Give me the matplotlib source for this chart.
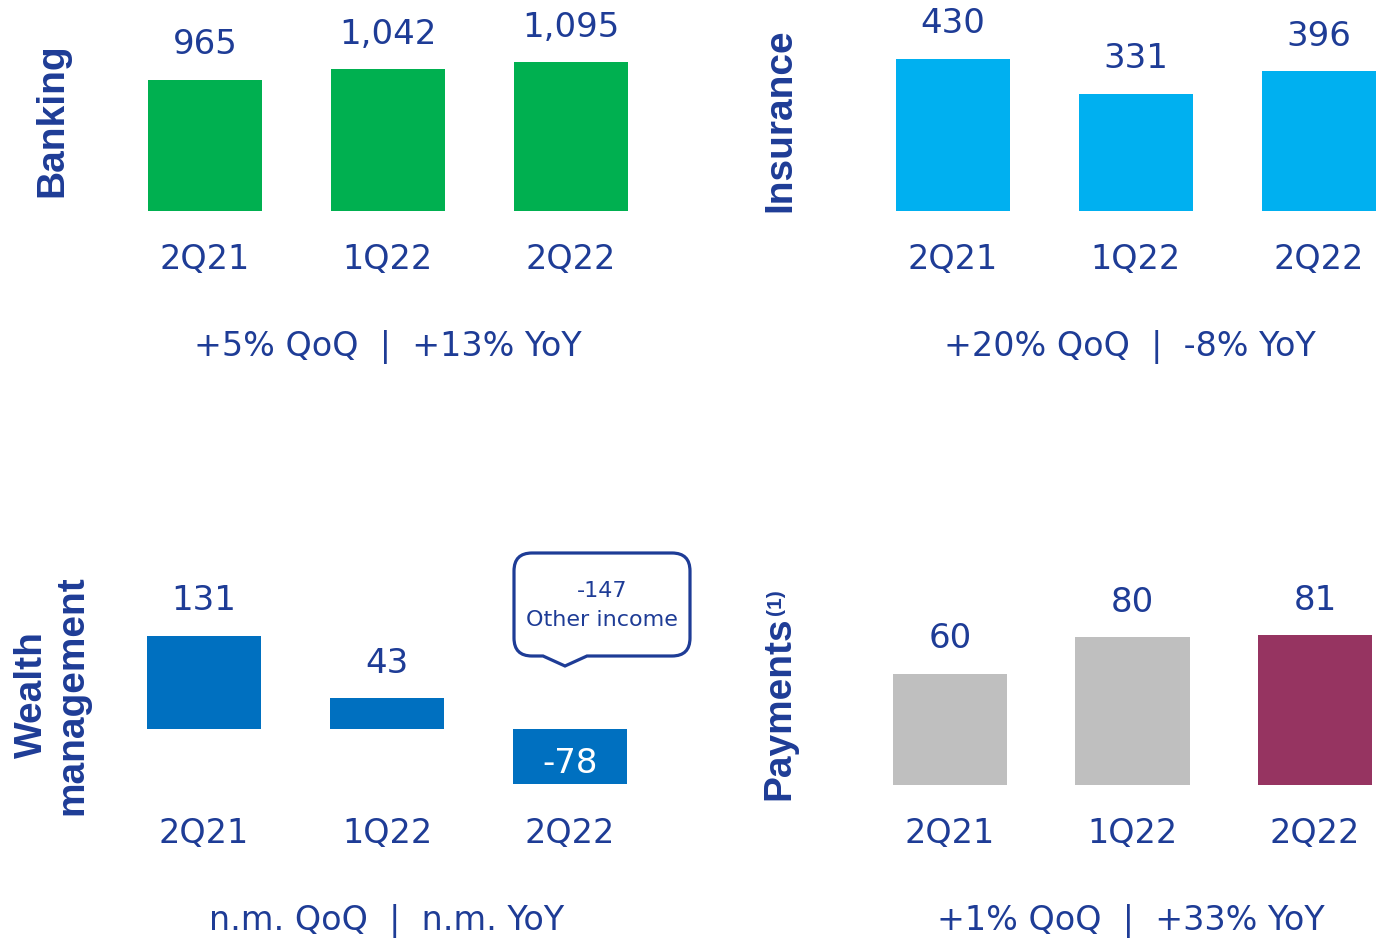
import matplotlib
matplotlib.use('Agg')
import matplotlib.pyplot as plt
from matplotlib.path import Path
from matplotlib.patches import PathPatch
from matplotlib.transforms import Affine2D

# quarterly results by segment
quarters = ['2Q21', '1Q22', '2Q22']
banking = [965, 1042, 1095]
insurance = [430, 331, 396]
wealth = [131, 43, -78]
payments = [60, 80, 81]
other_income = -147

banking_growth = '+5% QoQ  |  +13% YoY'
insurance_growth = '+20% QoQ  |  -8% YoY'
wealth_growth = 'n.m. QoQ  |  n.m. YoY'
payments_growth = '+1% QoQ  |  +33% YoY'

W, H = 1399, 944
NAVY = '#1E3C96'
NUM_FONT = 'DejaVu Sans'
LBL_FONT = 'Liberation Sans'

fig = plt.figure(figsize=(W / 100, H / 100), dpi=100)


def panel(c0, step, top, bottom, baseline, scale):
    # axes laid out in pixels (origin top-left), bars sit at x = 0, 1, 2
    x0, x1 = -0.5, 2.4
    left = c0 + x0 * step
    right = c0 + x1 * step
    ax = fig.add_axes([left / W, 1 - bottom / H, (right - left) / W, (bottom - top) / H])
    ax.set_xlim(x0, x1)
    ax.set_ylim(-(bottom - baseline) / scale, (baseline - top) / scale)
    for s in ax.spines.values():
        s.set_visible(False)
    ax.set_yticks([])
    ax.set_xticks(range(len(quarters)))
    ax.set_xticklabels(quarters, fontsize=24, color=NAVY, family=NUM_FONT, va='center')
    ax.tick_params(axis='x', length=0, pad=35)
    ax.patch.set_alpha(0)
    return ax


def draw(ax, values, colors, growth, shift=0):
    ax.bar(range(len(values)), values, width=0.625, color=colors)
    for i, v in enumerate(values):
        if v >= 0:
            ax.annotate(f'{v:,}', (i, v), xytext=(0, 35), textcoords='offset pixels',
                        ha='center', va='center', fontsize=24.5, color=NAVY, family=NUM_FONT)
    ax.annotate(growth, xy=(1, 0), xycoords=('data', 'axes fraction'), xytext=(shift, -136),
                textcoords='offset pixels', ha='center', va='center',
                fontsize=24, color=NAVY, family=NUM_FONT)


ax1 = panel(205, 183, 0, 211, 211, 0.1359)
draw(ax1, banking, '#00B050', banking_growth)

ax2 = panel(953, 183, 0, 211, 211, 0.3535)
draw(ax2, insurance, '#00B0F0', insurance_growth, shift=-6)

ax3 = panel(204, 183, 540, 785, 729, 0.71)
draw(ax3, wealth, '#0070C0', wealth_growth)
# negative bar gets its value inside, in white
ax3.annotate(f'{wealth[2]:,}', (2, wealth[2] / 2), xytext=(0, -7), textcoords='offset pixels',
             ha='center', va='center', fontsize=24.5, color='white', family=NUM_FONT)

ax4 = panel(950, 182.5, 540, 785, 785, 1.85)
draw(ax4, payments, ['#BFBFBF', '#BFBFBF', '#963461'], payments_growth, shift=-2)

# callout above the 2Q22 wealth bar
fig.canvas.draw()
ax_x, ax_y = ax3.transData.transform((2, 0))
L, R, T, B, r = -56, 120, 176, 73, 18
verts = [(L + r, T), (R - r, T), (R, T), (R, T - r), (R, B + r), (R, B), (R - r, B),
         (17, B), (-5, B - 10), (-27, B), (L + r, B), (L, B), (L, B + r), (L, T - r),
         (L, T), (L + r, T), (L + r, T)]
codes = [Path.MOVETO, Path.LINETO, Path.CURVE3, Path.CURVE3, Path.LINETO, Path.CURVE3, Path.CURVE3,
         Path.LINETO, Path.LINETO, Path.LINETO, Path.LINETO, Path.CURVE3, Path.CURVE3, Path.LINETO,
         Path.CURVE3, Path.CURVE3, Path.CLOSEPOLY]
box = PathPatch(Path(verts, codes), facecolor='white', edgecolor=NAVY, lw=2.3,
                transform=Affine2D().translate(ax_x, ax_y), clip_on=False, zorder=3)
ax3.add_artist(box)
ax3.annotate(f'{other_income}', (2, 0), xytext=(32, 138), textcoords='offset pixels',
             ha='center', va='center', fontsize=16, color=NAVY, family=NUM_FONT, zorder=4)
ax3.annotate('Other income', (2, 0), xytext=(32, 109), textcoords='offset pixels',
             ha='center', va='center', fontsize=16, color=NAVY, family=NUM_FONT, zorder=4)

# segment titles, rotated
def title(x, y, s, size=28):
    fig.text(x / W, 1 - y / H, s, rotation=90, ha='center', va='center', fontsize=size,
             fontweight='bold', color=NAVY, family=LBL_FONT, multialignment='center',
             linespacing=1.15)

title(52, 120, 'Banking')
title(780, 120, 'Insurance')
title(52, 695, 'Wealth\nmanagement')
title(779, 708, 'Payments')
title(776, 602, '(1)', size=15)

fig.savefig('out.png', dpi=100)
